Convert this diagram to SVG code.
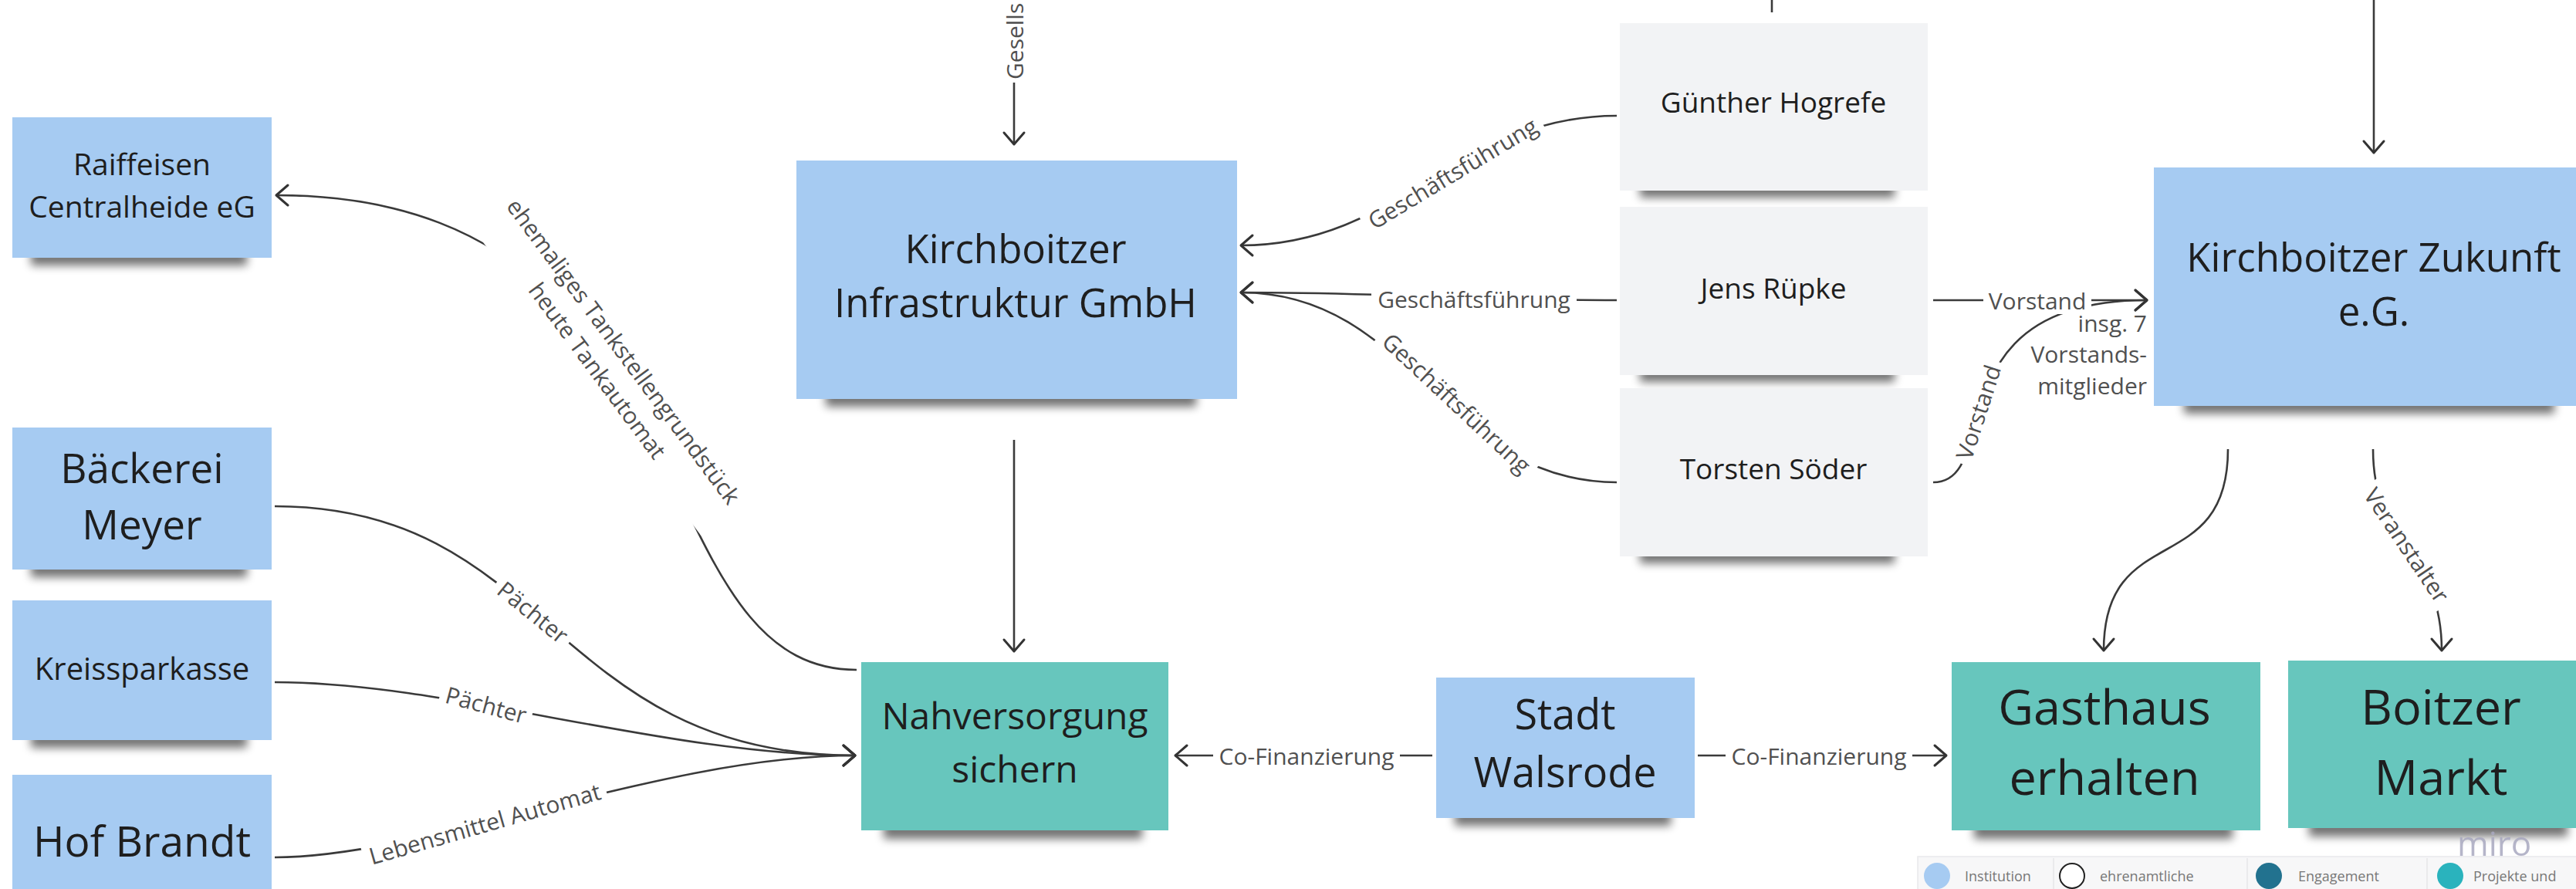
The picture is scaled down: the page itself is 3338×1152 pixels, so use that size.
<svg xmlns="http://www.w3.org/2000/svg" width="3338" height="1152" viewBox="0 0 3338 1152">
<defs>
<style>
.bl{fill:#a6cbf2}
.tl{fill:#67c6bd}
.gr{fill:#f2f3f5}
.sh{fill:#000;opacity:.55;filter:url(#blur)}
.nt{font-family:"Open Sans","Liberation Sans",sans-serif;fill:#1e1e1e;text-anchor:middle}
.c{fill:none;stroke:#3a3a3a;stroke-width:2.6}
.a{marker-end:url(#ah)}
.lb{font-family:"Open Sans","Liberation Sans",sans-serif;font-size:30px;fill:#505050;text-anchor:middle;dominant-baseline:central}
.bg{fill:#fff}
.lg{font-family:"Open Sans","Liberation Sans",sans-serif;font-size:18px;fill:#777}
</style>
<filter id="blur" x="-20%" y="-200%" width="140%" height="500%"><feGaussianBlur stdDeviation="6"/></filter>
<marker id="ah" markerUnits="userSpaceOnUse" viewBox="-20 -16 24 32" refX="0" refY="0" markerWidth="24" markerHeight="32" orient="auto" overflow="visible"><path d="M-15,-13 L0,0 L-15,13" fill="none" stroke="#333" stroke-width="3" stroke-linecap="round" stroke-linejoin="round"/></marker>
</defs>
<rect width="3338" height="1152" fill="#fff"/>

<g id="raiffeisen"><rect class="sh" x="40" y="324" width="280" height="20"/><rect class="bl" x="16" y="152" width="336" height="182"/>
<text class="nt" font-size="39"><tspan x="184" y="227">Raiffeisen</tspan><tspan x="184" y="282">Centralheide eG</tspan></text></g>

<g id="baeckerei"><rect class="sh" x="40" y="728" width="280" height="20"/><rect class="bl" x="16" y="554" width="336" height="184"/>
<text class="nt" font-size="53"><tspan x="184" y="626">Bäckerei</tspan><tspan x="184" y="699">Meyer</tspan></text></g>

<g id="kreissparkasse"><rect class="sh" x="40" y="949" width="280" height="20"/><rect class="bl" x="16" y="778" width="336" height="181"/>
<text class="nt" font-size="40" x="184" y="881">Kreissparkasse</text></g>

<g id="hofbrandt"><rect class="bl" x="16" y="1004" width="336" height="184"/>
<text class="nt" font-size="55" x="184" y="1110">Hof Brandt</text></g>

<g id="infrastruktur"><rect class="sh" x="1070" y="505" width="480" height="22"/><rect class="bl" x="1032" y="208" width="571" height="309"/>
<text class="nt" font-size="51"><tspan x="1316" y="341">Kirchboitzer</tspan><tspan x="1316" y="411">Infrastruktur GmbH</tspan></text></g>

<g id="guenther"><rect class="sh" x="2125" y="236" width="330" height="20"/><rect class="gr" x="2099" y="30" width="399" height="217"/>
<text class="nt" font-size="37" x="2298" y="146">Günther Hogrefe</text></g>

<g id="jens"><rect class="sh" x="2125" y="475" width="330" height="20"/><rect class="gr" x="2099" y="268" width="399" height="218"/>
<text class="nt" font-size="37" x="2298" y="387">Jens Rüpke</text></g>

<g id="torsten"><rect class="sh" x="2125" y="710" width="330" height="20"/><rect class="gr" x="2099" y="503" width="399" height="218"/>
<text class="nt" font-size="37" x="2298" y="621">Torsten Söder</text></g>

<g id="zukunft"><rect class="sh" x="2830" y="514" width="480" height="22"/><rect class="bl" x="2791" y="217" width="570" height="309"/>
<text class="nt" font-size="51"><tspan x="3076" y="352">Kirchboitzer Zukunft</tspan><tspan x="3076" y="422">e.G.</tspan></text></g>

<g id="nahversorgung"><rect class="sh" x="1145" y="1065" width="335" height="22"/><rect class="tl" x="1116" y="858" width="398" height="218"/>
<text class="nt" font-size="48"><tspan x="1315" y="945">Nahversorgung</tspan><tspan x="1315" y="1014">sichern</tspan></text></g>

<g id="stadt"><rect class="sh" x="1885" y="1050" width="280" height="20"/><rect class="bl" x="1861" y="878" width="335" height="182"/>
<text class="nt" font-size="54"><tspan x="2028" y="945">Stadt</tspan><tspan x="2028" y="1020">Walsrode</tspan></text></g>

<g id="gasthaus"><rect class="sh" x="2558" y="1065" width="335" height="22"/><rect class="tl" x="2529" y="858" width="400" height="218"/>
<text class="nt" font-size="63"><tspan x="2727" y="939">Gasthaus</tspan><tspan x="2727" y="1030">erhalten</tspan></text></g>

<g id="boitzer"><rect class="sh" x="2992" y="1062" width="335" height="22"/><rect class="tl" x="2965" y="856" width="396" height="217"/>
<text class="nt" font-size="63"><tspan x="3163" y="939">Boitzer</tspan><tspan x="3163" y="1030">Markt</tspan></text></g>

<g id="vorstandsnote"><text class="lb" style="text-anchor:end;dominant-baseline:auto"><tspan x="2782" y="430">insg. 7</tspan><tspan x="2782" y="470">Vorstands-</tspan><tspan x="2782" y="511">mitglieder</tspan></text></g>

<g id="connectors">
<path class="c a" d="M1314,107 L1314,187"/>
<text class="lb" style="text-anchor:start" transform="translate(1314,103) rotate(-90)">Gesells</text>
<path class="c" d="M2296,0 L2296,16"/>
<path class="c a" d="M3076,0 L3076,198"/>
<path class="c a" d="M2095,150 C1888,150 1815,318 1608,318"/>
<path class="c a" d="M2095,389 C1900,389 1800,379 1608,379"/>
<path class="c a" d="M2095,625 C1872,625 1831,379 1608,379"/>
<path class="c a" d="M2505,389 L2782,389"/>
<path class="c a" d="M2505,625 C2597,625 2502,389 2782,389"/>
<path class="c a" d="M1314,570 L1314,844"/>
<path class="c a" d="M1110,868 C821,868 932,253 358,253"/>
<path class="c a" d="M356,656 C713,656 717,979 1108,979"/>
<path class="c a" d="M356,884 C581,884 862,979 1108,979"/>
<path class="c a" d="M356,1111 C552,1111 857,979 1108,979"/>
<path class="c a" d="M1856,979 L1523,979"/>
<path class="c a" d="M2200,979 L2522,979"/>
<path class="c a" d="M2887,582 C2887,752 2726,673 2726,843"/>
<path class="c a" d="M3075,582 C3075,712 3164,712 3164,843"/>

<g transform="translate(1882,224) rotate(-31)"><rect class="bg" x="-133" y="-18" width="266" height="36"/><text class="lb">Geschäftsführung</text></g>
<g transform="translate(1910,387)"><rect class="bg" x="-133" y="-18" width="266" height="36"/><text class="lb">Geschäftsführung</text></g>
<g transform="translate(1888,522) rotate(43)"><rect class="bg" x="-133" y="-18" width="266" height="36"/><text class="lb">Geschäftsführung</text></g>
<g transform="translate(2640,389)"><rect class="bg" x="-70" y="-18" width="140" height="36"/><text class="lb">Vorstand</text></g>
<g transform="translate(2563,534) rotate(-72)"><rect class="bg" x="-70" y="-18" width="140" height="36"/><text class="lb">Vorstand</text></g>
<g transform="translate(792,467) rotate(53.4)"><rect class="bg" x="-252" y="-42" width="504" height="84"/><text class="lb"><tspan x="0" y="-21">ehemaliges Tankstellengrundstück</tspan><tspan x="0" y="21">heute Tankautomat</tspan></text></g>
<g transform="translate(691,793) rotate(39)"><rect class="bg" x="-61" y="-18" width="122" height="36"/><text class="lb">Pächter</text></g>
<g transform="translate(630,913) rotate(15)"><rect class="bg" x="-61" y="-18" width="122" height="36"/><text class="lb">Pächter</text></g>
<g transform="translate(628,1067) rotate(-16)"><rect class="bg" x="-163" y="-18" width="326" height="36"/><text class="lb">Lebensmittel Automat</text></g>
<g transform="translate(1693,979)"><rect class="bg" x="-121" y="-18" width="242" height="36"/><text class="lb">Co-Finanzierung</text></g>
<g transform="translate(2357,979)"><rect class="bg" x="-121" y="-18" width="242" height="36"/><text class="lb">Co-Finanzierung</text></g>
<g transform="translate(3119,706) rotate(56)"><rect class="bg" x="-93" y="-18" width="186" height="36"/><text class="lb">Veranstalter</text></g>
</g>

<g id="legend">
<rect x="2485" y="1110" width="870" height="50" fill="#f7f7f8" stroke="#e9e9ec" stroke-width="1.5"/>
<line x1="2661" y1="1112" x2="2661" y2="1152" stroke="#e6e6e9" stroke-width="1.5"/>
<line x1="2912" y1="1112" x2="2912" y2="1152" stroke="#e6e6e9" stroke-width="1.5"/>
<line x1="3145" y1="1112" x2="3145" y2="1152" stroke="#e6e6e9" stroke-width="1.5"/>
<circle cx="2510" cy="1135" r="17" fill="#a6cbf2"/>
<text class="lg" x="2546" y="1142">Institution</text>
<circle cx="2685" cy="1135" r="16" fill="#fff" stroke="#222" stroke-width="2"/>
<text class="lg" x="2721" y="1142">ehrenamtliche</text>
<circle cx="2940" cy="1135" r="17" fill="#22728f"/>
<text class="lg" x="2978" y="1142">Engagement</text>
<circle cx="3175" cy="1135" r="17" fill="#2ab3bd"/>
<text class="lg" x="3205" y="1142">Projekte und</text>
<text x="3184" y="1109" font-family="Open Sans, sans-serif" font-size="44" fill="#a9a9c0" opacity=".85">miro</text>
</g>
</svg>
